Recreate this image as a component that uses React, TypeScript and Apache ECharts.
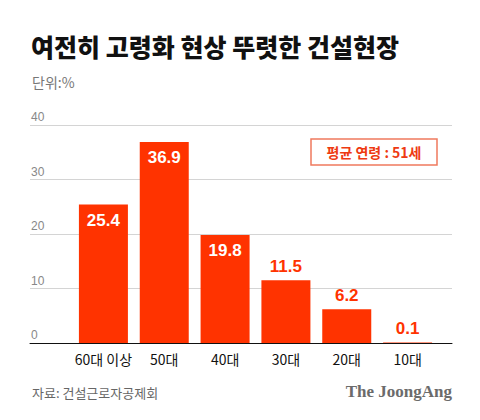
import React, { useEffect, useRef } from "react";
import * as echarts from "echarts";

const categories = ["60대 이상", "50대", "40대", "30대", "20대", "10대"];
const values = [25.4, 36.9, 19.8, 11.5, 6.2, 0.1];
const yTicks = { min: 0, max: 40, interval: 10 };
const titleText = "여전히 고령화 현상 뚜렷한 건설현장";
const unitText = "단위:%";
const noteText = "평균 연령 : 51세";
const sourceText = "자료: 건설근로자공제회";
const brandText = "The JoongAng";

const RED = "#ff3300";
const KR = "'Noto Sans CJK KR', 'Noto Sans', sans-serif";
const NUM = "'Liberation Sans', Arial, sans-serif";

export default function App() {
  const ref = useRef<HTMLDivElement>(null);
  useEffect(() => {
    if (!ref.current) return;
    const chart = echarts.init(ref.current, null, { renderer: "svg" });
    const top = 125;
    const height = 218;
    chart.setOption({
      animation: false,
      backgroundColor: "#ffffff",
      grid: [
        { left: 30, right: 28, top, height },
        { left: 73, width: 365, top, height },
      ],
      xAxis: [
        {
          type: "category",
          gridIndex: 0,
          data: categories,
          axisLine: { show: true, lineStyle: { color: "#111", width: 1 } },
          axisTick: { show: false },
          axisLabel: { show: false },
        },
        {
          type: "category",
          gridIndex: 1,
          data: categories,
          axisLine: { show: false },
          axisTick: { show: false },
          axisLabel: {
            interval: 0,
            color: "#111",
            fontSize: 14,
            fontFamily: KR,
            margin: 9,
          },
        },
      ],
      yAxis: [
        {
          type: "value",
          gridIndex: 0,
          min: yTicks.min,
          max: yTicks.max,
          interval: yTicks.interval,
          axisLine: { show: false },
          axisTick: { show: false },
          splitLine: { lineStyle: { color: "#d4d4d4", width: 1 } },
          axisLabel: {
            inside: true,
            margin: 1,
            align: "left",
            verticalAlign: "bottom",
            padding: [0, 0, 2, 0],
            color: "#888",
            fontSize: 12,
            fontFamily: NUM,
          },
        },
        {
          type: "value",
          gridIndex: 1,
          min: yTicks.min,
          max: yTicks.max,
          interval: yTicks.interval,
          show: false,
        },
      ],
      series: [
        {
          type: "bar",
          xAxisIndex: 1,
          yAxisIndex: 1,
          barWidth: 49,
          itemStyle: { color: RED },
          data: values.map((v) => {
            const inside = v > 15;
            return {
              value: v,
              label: {
                show: true,
                position: inside ? "insideTop" : "top",
                distance: inside ? 7 : 5,
                color: inside ? "#ffffff" : RED,
                fontSize: 17,
                fontWeight: "bold",
                fontFamily: NUM,
                formatter: (p: any) => p.value.toFixed(1),
              },
            };
          }),
        },
      ],
      graphic: [
        {
          type: "text",
          x: 31,
          y: 46,
          style: {
            text: titleText,
            font: `900 25px ${KR}`,
            fill: "#111",
            verticalAlign: "middle",
          },
        },
        {
          type: "text",
          x: 32,
          y: 82,
          style: {
            text: unitText,
            font: `400 14px ${KR}`,
            fill: "#777",
            verticalAlign: "middle",
          },
        },
        {
          type: "rect",
          shape: { x: 311, y: 139, width: 126, height: 26 },
          style: { fill: "none", stroke: "#f07a5e", lineWidth: 1.5 },
        },
        {
          type: "text",
          x: 374,
          y: 152,
          style: {
            text: noteText,
            font: `700 14px ${KR}`,
            fill: "#ee3a12",
            align: "center",
            verticalAlign: "middle",
          },
        },
        {
          type: "text",
          x: 32,
          y: 392,
          style: {
            text: sourceText,
            font: `400 13px ${KR}`,
            fill: "#666",
            verticalAlign: "middle",
          },
        },
        {
          type: "text",
          x: 452,
          y: 391,
          style: {
            text: brandText,
            font: `700 17px 'Liberation Serif', 'DejaVu Serif', serif`,
            fill: "#6b6b6b",
            align: "right",
            verticalAlign: "middle",
          },
        },
      ],
    });
    return () => chart.dispose();
  }, []);
  return (
    <div
      ref={ref}
      style={{ position: "fixed", left: 0, top: 0, width: 480, height: 420, background: "#fff" }}
    />
  );
}
